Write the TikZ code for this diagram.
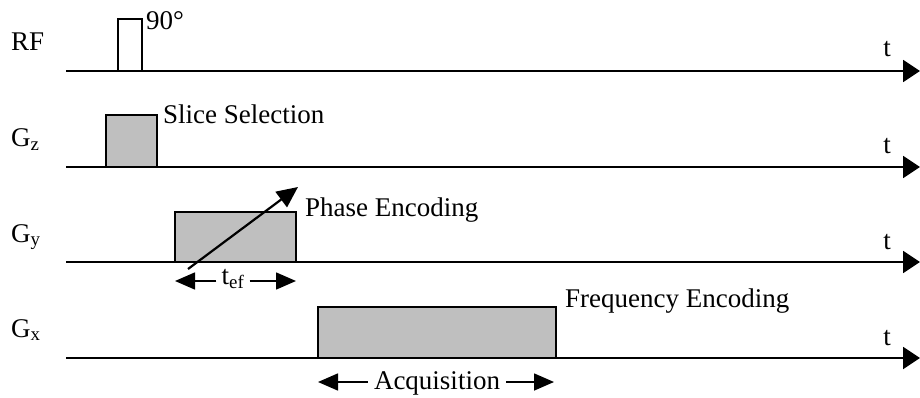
\documentclass[tikz,border=0pt]{standalone}
\usepackage{fontspec}
\setmainfont{Liberation Serif}
\usetikzlibrary{arrows.meta}
\tikzset{
  axis/.style={line width=2pt,-{Triangle[length=17pt,width=22pt]}},
  gradbox/.style={draw=black,line width=1.8pt,fill=black!25},
  pulsebox/.style={draw=black,line width=1.4pt},
  lbl/.style={inner sep=0pt,anchor=base west,font=\fontsize{27}{31}\selectfont},
  tl/.style={inner sep=0pt,anchor=base,font=\fontsize{27}{31}\selectfont},
  dimarrow/.style={line width=1.6pt,-{Triangle[length=20pt,width=17pt]}},
  diag/.style={line width=2.2pt,-{Triangle[length=21pt,width=19pt]}}
}
\begin{document}
\begin{tikzpicture}[x=1pt,y=-1pt]
\useasboundingbox (0,0) rectangle (920,398);
% axes
\coordinate (rfa) at (66,71);   \coordinate (rfb) at (920,71);
\coordinate (gza) at (66,167);  \coordinate (gzb) at (920,167);
\coordinate (gya) at (66,262);  \coordinate (gyb) at (920,262);
\coordinate (gxa) at (66,358);  \coordinate (gxb) at (920,358);
% pulses
\draw[pulsebox] (118,71) -- (118,19) -- (142,19) -- (142,71);
\draw[gradbox] (106,167) rectangle (157,115);
\draw[gradbox] (175,262) rectangle (296,212);
\draw[gradbox] (318,358) rectangle (556,307);
\draw[axis] (rfa) -- (rfb);
\draw[axis] (gza) -- (gzb);
\draw[axis] (gya) -- (gyb);
\draw[axis] (gxa) -- (gxb);
% channel labels
\node[lbl] (rf) at (11,51) {RF};
\node[lbl] (gz) at (11,147) {G\textsubscript{z}};
\node[lbl] (gy) at (11,242) {G\textsubscript{y}};
\node[lbl] (gx) at (11,337) {G\textsubscript{x}};
% t labels
\node[tl] (t1) at (887,57) {t};
\node[tl] (t2) at (887,154) {t};
\node[tl] (t3) at (887,249) {t};
\node[tl] (t4) at (887,345) {t};
% annotations
\node[lbl] (ninety) at (146,30) {90\textdegree};
\node[lbl] (slice) at (163,124) {Slice Selection};
\node[lbl] (phase) at (305,216) {Phase Encoding};
\node[lbl] (freq) at (565,307) {Frequency Encoding};
% phase encoding diagonal arrow
\coordinate (d0) at (188,269);
\coordinate (d1) at (298,187);
\draw[diag] (d0) -- (d1);
% t_ef
\node[tl] (tef) at (233,284) {t\textsubscript{ef}};
\coordinate (tefl) at (175,281);
\coordinate (tefr) at (296,281);
\draw[dimarrow] (tef.west |- tefl) ++(-5,0) -- (tefl);
\draw[dimarrow] (tef.east |- tefr) ++(5,0) -- (tefr);
% acquisition
\node[tl] (acq) at (437,389) {Acquisition};
\coordinate (acql) at (318,382);
\coordinate (acqr) at (554,382);
\draw[dimarrow] (acq.west |- acql) ++(-6,0) -- (acql);
\draw[dimarrow] (acq.east |- acqr) ++(6,0) -- (acqr);
\end{tikzpicture}
\end{document}
